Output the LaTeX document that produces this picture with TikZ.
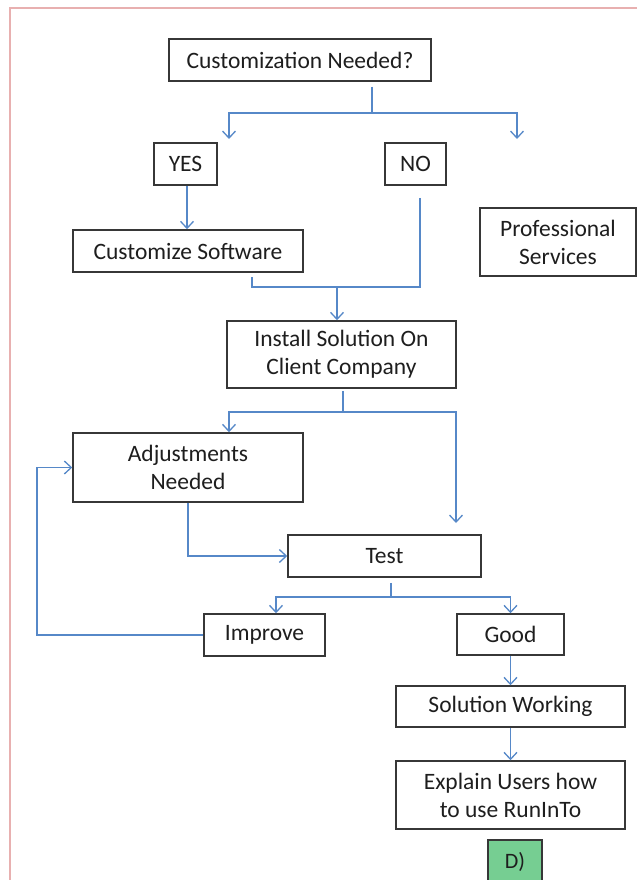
\documentclass[tikz,border=0pt]{standalone}
\usepackage{fontspec}
\setmainfont{Carlito}
\usetikzlibrary{arrows.meta}
\definecolor{framepink}{RGB}{232,176,176}
\definecolor{linkblue}{RGB}{86,136,200}
\definecolor{boxedge}{RGB}{55,55,55}
\definecolor{textgray}{RGB}{30,30,30}
\definecolor{tagfill}{RGB}{118,206,146}
\tikzset{
  flowbox/.style={draw=boxedge, line width=1.5pt, rectangle, inner sep=0pt,
    text=textgray, align=center, font=\fontsize{23.5}{28}\selectfont},
  link/.style={draw=linkblue, line width=1.4pt},
  arrowlink/.style={link, -{Straight Barb[length=7pt,width=13pt,line width=1.3pt]}},
}
\begin{document}
\begin{tikzpicture}[x=1pt,y=-1pt]
\useasboundingbox (0,0) rectangle (637,880);
\fill[white] (0,0) rectangle (637,880);
% page frame
\draw[framepink, line width=2pt] (10,880) -- (10,8) -- (637,8);

% boxes
\node[flowbox, minimum width=262, minimum height=42] (cust) at (300,60) {Customization Needed?};
\node[flowbox, minimum width=63, minimum height=42] (yes) at (185.5,164) {YES};
\node[flowbox, minimum width=61, minimum height=42] (no) at (415.5,164) {NO};
\node[flowbox, minimum width=230, minimum height=42] (cs) at (188,251) {Customize Software};
\node[flowbox, minimum width=156, minimum height=68] (prof) at (558,242) {Professional\\Services};
\node[flowbox, minimum width=229, minimum height=67] (install) at (341.5,354.5) {Install Solution On\\Client Company};
\node[flowbox, minimum width=230, minimum height=69] (adj) at (188,467.5) {Adjustments\\Needed};
\node[flowbox, minimum width=193, minimum height=42] (test) at (384.5,556) {Test};
\node[flowbox, minimum width=121, minimum height=42] (improve) at (264.5,635) {Improve};
\node[flowbox, minimum width=107, minimum height=41] (good) at (510.5,634.5) {Good};
\node[flowbox, minimum width=229, minimum height=41] (sw) at (510.5,706.5) {Solution Working};
\node[flowbox, minimum width=229, minimum height=68] (explain) at (510.5,795) {Explain Users how\\to use RunInTo};
\node[flowbox, fill=tagfill, minimum width=54, minimum height=44, font=\fontsize{22}{26}\selectfont] (tag) at (515,862) {D)};

% junctions and free arrow ends
\coordinate (j1) at (372,113);
\coordinate (a1) at (229,139);
\coordinate (a2) at (517,139);
\coordinate (j2) at (337,287);
\coordinate (j3) at (343,412);
\coordinate (a3) at (456,523);
\coordinate (j4) at (391,597);
\coordinate (loop) at (37,550);

% connectors
\draw[link] ([yshift=-5pt]cust.south -| j1) -- (j1);
\draw[arrowlink] (j1) -| (a1);
\draw[arrowlink] (j1) -| (a2);

\draw[arrowlink] ([xshift=1.5pt]yes.south) -- ([xshift=1.5pt]yes.south |- cs.north);

\draw[link] ([xshift=4.5pt,yshift=-12pt]no.south) |- (j2);
\draw[link] ([xshift=64pt,yshift=-4pt]cs.south) |- (j2);
\draw[arrowlink] (j2) -- (j2 |- install.north);

\draw[link] ([yshift=-2pt]install.south -| j3) -- (j3);
\draw[arrowlink] (j3) -| ([xshift=41pt]adj.north);
\draw[arrowlink] (j3) -| (a3);

\draw[arrowlink] (adj.south) |- (test.west);

\draw[link] ([yshift=-5pt]test.south -| j4) -- (j4);
\draw[arrowlink] (j4) -| ([xshift=11.5pt]improve.north);
\draw[arrowlink] (j4) -| (good.north);

\draw[link] (improve.west) -| (loop);
\draw[arrowlink] (loop) |- (adj.west);

\draw[arrowlink] (good.south) -- (good.south |- sw.north);
\draw[arrowlink] (sw.south) -- (sw.south |- explain.north);
\end{tikzpicture}
\end{document}
